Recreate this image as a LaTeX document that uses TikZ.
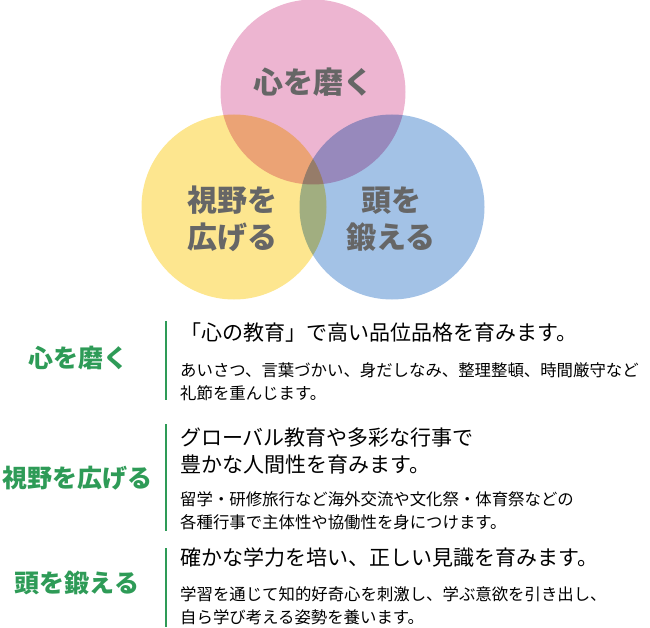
\documentclass[tikz,border=0pt]{standalone}
\usepackage{fontspec}
\newfontfamily\cjk{Noto Sans CJK JP}
\usetikzlibrary{positioning}
\definecolor{ringpink}{RGB}{237,181,209}
\definecolor{ringyellow}{RGB}{253,230,143}
\definecolor{ringblue}{RGB}{163,194,230}
\definecolor{labelgray}{RGB}{102,102,102}
\definecolor{leafgreen}{RGB}{46,155,87}
\tikzset{
  ring/.style={
    circle,
    minimum size=185pt,
    inner sep=0pt},
  ringlabel/.style={
    font=\cjk\bfseries\fontsize{30}{37}\selectfont,
    text=labelgray,
    align=center},
  pillar/.style={
    font=\cjk\bfseries\fontsize{25}{30}\selectfont,
    text=leafgreen,
    inner sep=0pt},
  divider/.style={draw=leafgreen, line width=2pt},
  lead/.style={
    font=\cjk\fontsize{21}{27}\selectfont,
    anchor=west,
    align=left,
    inner sep=0pt},
  detail/.style={
    font=\cjk\fontsize{16.4}{23}\selectfont,
    anchor=west,
    align=left,
    inner sep=0pt},
}
\begin{document}
\begin{tikzpicture}[x=1pt, y=-1pt]
  \useasboundingbox (0,0) rectangle (650,628);
  % the three circles, multiplied where they overlap
  \begin{scope}[blend group=multiply]
    \node[ring, fill=ringpink]   (kokoro) at (313,92)  {};
    \node[ring, fill=ringyellow] (shiya)  at (234,207) {};
    \node[ring, fill=ringblue]   (atama)  at (392,207) {};
  \end{scope}
  \node[ringlabel] (kokorolbl) at (313,82)  {心を磨く};
  \node[ringlabel] (shiyalbl)  at (232,219) {視野を\\広げる};
  \node[ringlabel] (atamalbl)  at (391,219) {頭を\\鍛える};
  % list below the circles
  %% No. 1
  \node[pillar] (pillar1) at (78,358) {心を磨く};
  \coordinate (bar1top) at (165.5,321);
  \coordinate (bar1bot) at (165.5,400);
  \draw[divider] (bar1top) -- (bar1bot);
  \node[lead] (lead1) at (180,333) {「心の教育」で高い品位品格を育みます。};
  \node[detail, below=19pt of lead1.south west, anchor=north west] (detail1)
    {あいさつ、言葉づかい、身だしなみ、整理整頓、時間厳守など\\礼節を重んじます。};
  %% No. 2
  \node[pillar] (pillar2) at (77,478) {視野を広げる};
  \coordinate (bar2top) at (165.5,424);
  \coordinate (bar2bot) at (165.5,531);
  \draw[divider] (bar2top) -- (bar2bot);
  \node[lead] (lead2) at (180,451.5) {グローバル教育や多彩な行事で\\豊かな人間性を育みます。};
  \node[detail, below=17pt of lead2.south west, anchor=north west] (detail2)
    {留学・研修旅行など海外交流や文化祭・体育祭などの\\各種行事で主体性や協働性を身につけます。};
  %% No. 3
  \node[pillar] (pillar3) at (77,583) {頭を鍛える};
  \coordinate (bar3top) at (165.5,548);
  \coordinate (bar3bot) at (165.5,627);
  \draw[divider] (bar3top) -- (bar3bot);
  \node[lead] (lead3) at (180,558) {確かな学力を培い、正しい見識を育みます。};
  \node[detail, below=18pt of lead3.south west, anchor=north west] (detail3)
    {学習を通じて知的好奇心を刺激し、学ぶ意欲を引き出し、\\自ら学び考える姿勢を養います。};
\end{tikzpicture}
\end{document}
